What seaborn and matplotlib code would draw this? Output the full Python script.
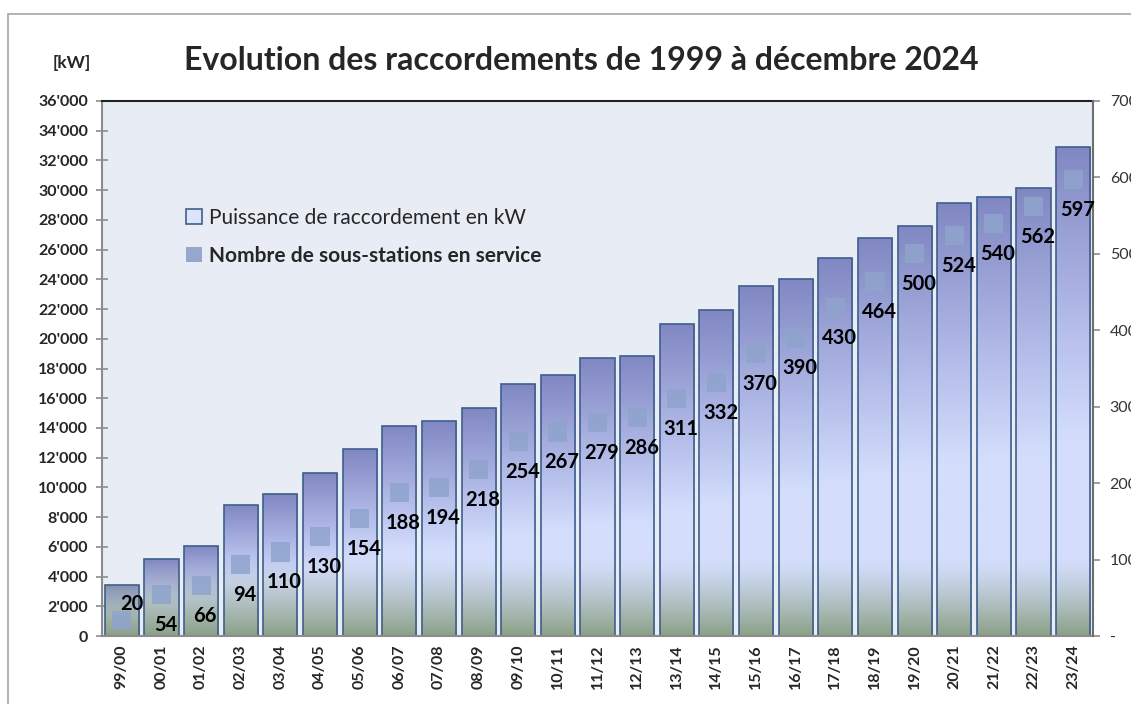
import numpy as np
import pandas as pd
import matplotlib
matplotlib.use("Agg")
import matplotlib.pyplot as plt
import seaborn as sns
from matplotlib.patches import Patch
from matplotlib.lines import Line2D
from matplotlib.ticker import FuncFormatter, MultipleLocator

# data
seasons = ["99/00", "00/01", "01/02", "02/03", "03/04", "04/05", "05/06", "06/07",
           "07/08", "08/09", "09/10", "10/11", "11/12", "12/13", "13/14", "14/15",
           "15/16", "16/17", "17/18", "18/19", "19/20", "20/21", "21/22", "22/23", "23/24"]
power_kw = [3450, 5160, 6080, 8840, 9540, 11000, 12580, 14150,
            14450, 15340, 16960, 17560, 18690, 18860, 21000, 21920,
            23550, 24050, 25410, 26760, 27590, 29120, 29520, 30130, 32930]
substations = [20, 54, 66, 94, 110, 130, 154, 188, 194, 218, 254, 267, 279, 286,
               311, 332, 370, 390, 430, 464, 500, 524, 540, 562, 597]

title = "Evolution des raccordements de 1999 à décembre 2024"
label_power = "Puissance de raccordement en kW"
label_count = "Nombre de sous-stations en service"

df = pd.DataFrame({"saison": seasons, "kw": power_kw, "n": substations})

sns.set_theme(style="white")
plt.rcParams["font.family"] = ["Lato", "DejaVu Sans"]
plt.rcParams["font.weight"] = "bold"

fig = plt.figure(figsize=(11.31, 7.04), dpi=100)
ax = fig.add_axes([102/1131, 1-636/704, (1093-102)/1131, (636-101)/704])
ax.set_facecolor("#E8ECF4")

sns.barplot(data=df, x="saison", y="kw", ax=ax, width=0.86,
            color="#B0B8E6", edgecolor="#3E5F8C", linewidth=1.2)

# gradient fill for each bar
top_c = np.array([129, 135, 194]) / 255
mid_c = np.array([178, 186, 232]) / 255
light_c = np.array([212, 222, 252]) / 255
green_c = np.array([140, 160, 134]) / 255
nrow = 300
for p in ax.patches:
    x0, w, h = p.get_x(), p.get_width(), p.get_height()
    f = np.linspace(0, 1, nrow)  # 0 top, 1 bottom
    col = np.empty((nrow, 3))
    for i, fi in enumerate(f):
        if fi < 0.35:
            t = fi / 0.35
            c = top_c * (1 - t) + mid_c * t
        elif fi < 0.6:
            t = (fi - 0.35) / 0.25
            c = mid_c * (1 - t) + light_c * t
        else:
            c = light_c
        yv = h * (1 - fi)
        g = np.clip((5200 - yv) / 5200, 0, 1) ** 1.3
        col[i] = c * (1 - g) + green_c * g
    img = ax.imshow(col[:, None, :], extent=[x0, x0 + w, 0, h], aspect="auto",
                    origin="upper", zorder=p.get_zorder() - 0.1, interpolation="bilinear")
    img.set_clip_path(p)
    p.set_facecolor("none")

ax.set_xlim(-0.5, len(seasons) - 0.5)
ax.set_ylim(0, 36000)
ax.set_xlabel("")
ax.set_ylabel("")
ax.yaxis.set_major_locator(MultipleLocator(2000))
ax.yaxis.set_major_formatter(FuncFormatter(lambda v, _: f"{int(v):,}".replace(",", "'")))
ax.set_xticks(np.arange(len(seasons)))
ax.set_xticklabels(seasons, rotation=90, fontweight="bold", fontsize=11.5)
ax.tick_params(axis="x", length=0, pad=6)
ax.set_xticks(np.arange(len(seasons) + 1) - 0.5, minor=True)
ax.tick_params(axis="x", which="minor", length=6, color="#8C8C8C", width=1.2, direction="out")
ax.tick_params(axis="y", direction="inout", length=8, color="#8C8C8C", width=1.2,
               labelsize=11.5, pad=6)
for s in ["left", "bottom"]:
    ax.spines[s].set_color("#8C8C8C")
    ax.spines[s].set_linewidth(1.5)
ax.spines["top"].set_color("#222222")
ax.spines["top"].set_linewidth(1.5)
ax.spines["right"].set_visible(False)

ax2 = ax.twinx()
sns.scatterplot(x=np.arange(len(seasons)), y=substations, ax=ax2, marker="s", s=190,
                color="#8FA4CC", alpha=0.85, edgecolor="none", zorder=5)
ax2.set_ylim(0, 700)
ax2.yaxis.set_major_locator(MultipleLocator(100))
ax2.yaxis.set_major_formatter(FuncFormatter(lambda v, _: "-" if v == 0 else f"{int(v)}"))
ax2.tick_params(axis="y", direction="out", length=5, color="#8C8C8C", width=1.2,
                labelsize=11.5, labelcolor="#333333", pad=7)
for t in ax2.get_yticklabels():
    t.set_fontweight("normal")
for s in ["left", "top", "bottom"]:
    ax2.spines[s].set_visible(False)
ax2.spines["right"].set_color("#6E6E6E")
ax2.spines["right"].set_linewidth(1.5)

for i, v in enumerate(substations):
    if i == 0:
        off = (7, 12)
    else:
        off = (3, -22)
    ax2.annotate(str(v), (i, v), xytext=off, textcoords="offset points",
                 ha="center", va="center", fontsize=14.5, fontweight="bold",
                 color="black", zorder=6)

handles = [Patch(facecolor="#DCE3FA", edgecolor="#3E5F8C", linewidth=1.2),
           Patch(facecolor="#95A8CC", edgecolor="none")]
leg = fig.legend(handles, [label_power, label_count], loc="upper left",
                 bbox_to_anchor=(186/1131, 1-208/704), frameon=False, fontsize=15,
                 borderpad=0, borderaxespad=0,
                 handlelength=0.75, handleheight=0.75, handletextpad=0.35, labelspacing=0.85)
leg.get_texts()[0].set_fontweight("normal")
leg.get_texts()[1].set_fontweight("bold")

fig.text(581/1131, 1-60/704, title, ha="center", va="center", fontsize=23, fontweight="bold")
fig.text(72/1131, 1-63/704, "[kW]", ha="center", va="center", fontsize=12.5, fontweight="bold")

# outer chart frame
fig.add_artist(Line2D([8/1131, 8/1131], [0, 1-14/704], transform=fig.transFigure,
                      color="#A6A6A6", linewidth=1.2))
fig.add_artist(Line2D([8/1131, 1], [1-14/704, 1-14/704], transform=fig.transFigure,
                      color="#A6A6A6", linewidth=1.2))

fig.savefig("out.png", dpi=100)
